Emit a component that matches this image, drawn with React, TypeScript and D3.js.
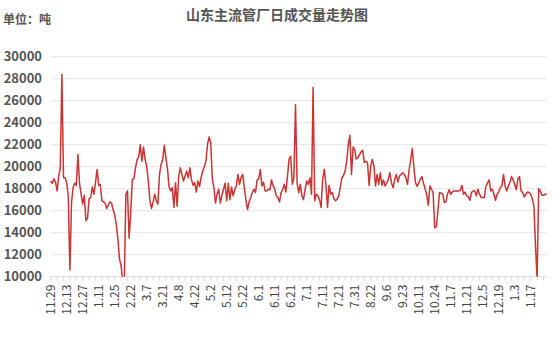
import React from "react";
import * as d3 from "d3";

const title = "山东主流管厂日成交量走势图";
const unitLabel = "单位：吨";

const tickLabels = [
  "11.29", "12.13", "12.27", "1.11", "1.25", "2.22", "3.7", "3.21", "4.8", "4.22",
  "5.2", "5.12", "5.22", "6.1", "6.11", "6.21", "7.1", "7.11", "7.21", "7.31",
  "8.22", "9.6", "9.23", "10.11", "10.24", "11.7", "11.21", "12.5", "12.19", "1.3", "1.17",
];

const yTicks = [10000, 12000, 14000, 16000, 18000, 20000, 22000, 24000, 26000, 28000, 30000];

const values = [
  18700, 18480, 18900, 18600, 17800, 19150, 19900, 28400, 19000, 19000,
  18550, 17300, 10600, 16700, 18100, 18500, 18300, 21100, 18500, 17500,
  16600, 17400, 15100, 15300, 17100, 17200, 18150, 17500, 18550, 19750,
  18300, 18400, 16900, 16800, 16700, 16200, 16500, 16800, 16700, 16100,
  15650, 14750, 13400, 11600, 11000, 9600, 9700, 17500, 17800, 13500,
  15800, 18850, 18900, 19900, 20650, 20900, 22000, 20500, 21800, 20650,
  20050, 18700, 16900, 16200, 16800, 17500, 16900, 16600, 19300, 20200,
  20650, 21950, 20800, 19800, 18150, 17800, 18100, 16300, 18550, 16400,
  19150, 19900, 19300, 18700, 19150, 19600, 19000, 19900, 18800, 18300,
  18550, 17700, 18700, 18200, 19000, 19600, 20000, 20500, 22000, 22700,
  22200, 18900, 18100, 16700, 17500, 17950, 16700, 17400, 17950, 18500,
  16900, 18500, 17000, 18150, 17350, 17900, 18250, 19300, 18400, 19000,
  19300, 18100, 17000, 16100, 16800, 17200, 17650, 17950, 17650, 18800,
  18900, 19750, 18250, 18600, 17800, 17800, 17950, 17900, 18800, 18250,
  18000, 17350, 17200, 16800, 17650, 17950, 18400, 17700, 19150, 20700,
  20950, 18400, 19000, 25650, 18500, 17650, 18400, 17350, 17000, 17950,
  18700, 18400, 19000, 17500, 27200, 16900, 17500, 17350, 17000, 16300,
  18850, 19750, 18400, 16300, 18300, 17500, 17650, 17100, 16900, 17050,
  17350, 18100, 19000, 19200, 19600, 20500, 22000, 22850, 19300, 21800,
  21500, 20700, 20800, 21100, 21350, 21500, 20400, 20500, 20350, 18300,
  20050, 20650, 20100, 18250, 19300, 18400, 19450, 18300, 18800, 18250,
  18500, 18850, 19450, 18500, 18100, 18850, 19300, 18600, 19150, 19300,
  19450, 19300, 19000, 18400, 19700, 20650, 21650, 19900, 18550, 18200,
  18500, 18850, 19100, 18500, 18000, 17500, 16500, 18250, 17950, 17650,
  14450, 14550, 15950, 17650, 17600, 17500, 16750, 16800, 17500, 17900,
  17500, 17700, 17800, 17800, 17800, 17800, 17850, 18300, 17500, 17700,
  17350, 17250, 16950, 17650, 17800, 17800, 17350, 17950, 17500, 17200,
  17200, 17200, 18200, 18500, 18800, 17800, 17950, 17500, 16950, 17500,
  17700, 18100, 18250, 19300, 18250, 17800, 18250, 18550, 19100, 18800,
  18400, 17900, 18900, 19100, 17800, 17650, 17250, 17500, 17700, 17650,
  17500, 17100, 16400, 12800, 9800, 18000, 17800, 17400, 17400, 17500,
  17500,
];

const W = 554;
const H = 360;
const left = 50.7;
const right = 546.7;
const top = 56.7;
const bottom = 276.7;
const font = "'Noto Sans CJK SC', 'Noto Sans', sans-serif";

export default function App() {
  const x = d3.scaleLinear().domain([0, values.length - 1]).range([left, right]);
  const y = d3.scaleLinear().domain([10000, 30000]).range([bottom, top]);
  const line = d3
    .line<number>()
    .x((_, i) => x(i))
    .y((d) => y(d));
  const tickIdx = d3.range(0, values.length, 4);

  return (
    <svg
      width={W}
      height={H}
      style={{ position: "absolute", left: 0, top: 0, background: "#fff" }}
      fontFamily={font}
    >
      <defs>
        <clipPath id="plot">
          <rect x={left - 2} y={top - 10} width={right - left + 4} height={bottom - top + 10} />
        </clipPath>
      </defs>
      <text x={277} y={20} textAnchor="middle" fontSize={14} fontWeight="bold" fill="#555">
        {title}
      </text>
      <text x={3} y={24} fontSize={12} fontWeight="bold" fill="#555">
        {unitLabel}
      </text>
      {yTicks.map((t) => (
        <g key={t}>
          {t !== 10000 && (
            <line x1={left} x2={right} y1={y(t)} y2={y(t)} stroke="#e6e6e6" strokeWidth={1} />
          )}
          <text
            x={42}
            y={y(t)}
            dy="0.35em"
            textAnchor="end"
            fontSize={13}
            fontWeight={600}
            fill="#555"
          >
            {t}
          </text>
        </g>
      ))}
      <line x1={left} x2={right} y1={bottom} y2={bottom} stroke="#d9d9d9" strokeWidth={1} />
      {tickIdx.map((i) => (
        <line key={i} x1={x(i)} x2={x(i)} y1={bottom} y2={bottom + 4} stroke="#d9d9d9" strokeWidth={1} />
      ))}
      {tickLabels.map((lab, k) => {
        const px = x(k * 10);
        const py = bottom + 8;
        return (
          <text
            key={lab + k}
            transform={`translate(${px},${py}) rotate(-90)`}
            dy="0.35em"
            textAnchor="end"
            fontSize={12}
            fill="#444"
          >
            {lab}
          </text>
        );
      })}
      <path
        d={line(values) || ""}
        fill="none"
        stroke="#cc3333"
        strokeWidth={1.5}
        strokeLinejoin="round"
        clipPath="url(#plot)"
      />
    </svg>
  );
}
